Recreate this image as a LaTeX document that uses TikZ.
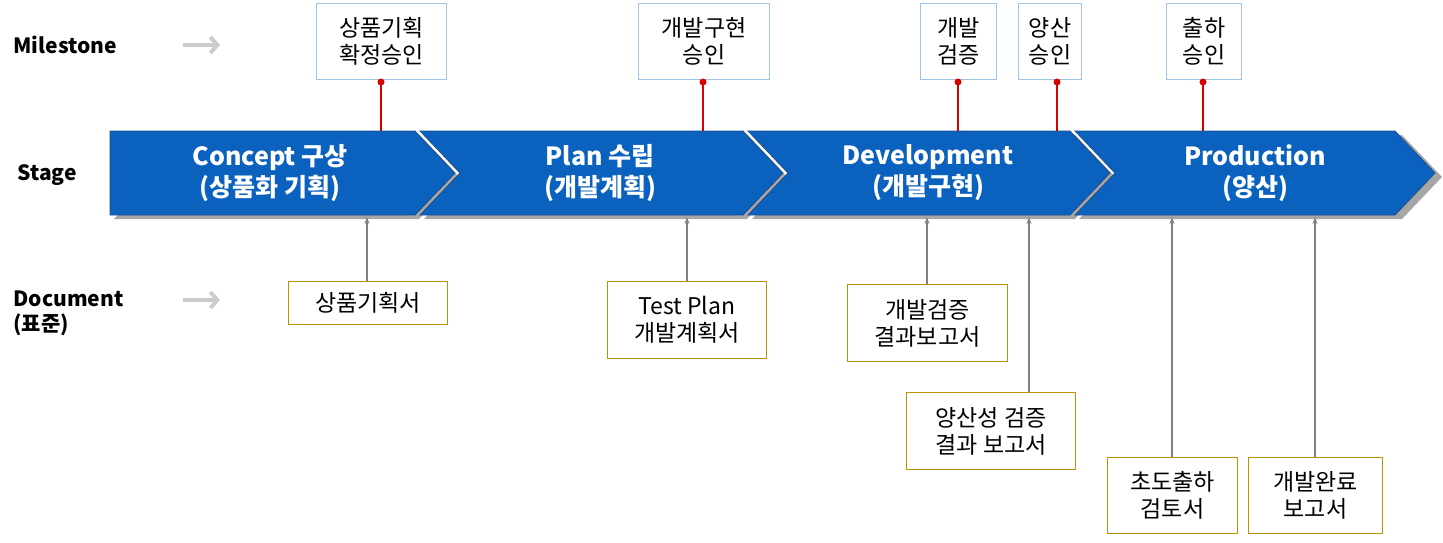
\documentclass[tikz,border=0pt]{standalone}
\usepackage{fontspec}
\setmainfont{Noto Sans CJK KR}
\usetikzlibrary{arrows.meta}
\definecolor{bandblue}{HTML}{0A62BE}
\definecolor{bandedge}{HTML}{1F4E8C}
\definecolor{msedge}{HTML}{9DC3E6}
\definecolor{docedge}{HTML}{BF9000}
\tikzset{
 x=1pt,y=-1pt,
 ms/.style={draw=msedge,fill=white,line width=1pt,align=center,font=\fontsize{23}{27}\selectfont,inner sep=0pt,anchor=north west},
 doc/.style={draw=docedge,fill=white,line width=1pt,align=center,font=\fontsize{23}{27}\selectfont,inner sep=0pt,anchor=north west},
 redl/.style={draw=red!85!black,line width=1.5pt},
 docarr/.style={draw=gray,line width=1.2pt,-{Stealth[length=7pt,width=5pt]}},
 lab/.style={font=\bfseries\fontsize{21}{25}\selectfont,align=left},
 stagetxt/.style={text=white,font=\bfseries\fontsize{25}{31}\selectfont,align=center},
 chev/.style={fill=bandblue,draw=bandedge,line width=0.8pt},
 shad/.style={fill=gray!70},
 bigarr/.style={draw=gray!40,line width=4pt,-{Straight Barb[length=7pt,width=16pt]}}
}
\begin{document}
\begin{tikzpicture}
\useasboundingbox (0,0) rectangle (1443,542);
% shadows
\foreach \a/\b in {110/455,420/783,748/1111,1075/1438}{
 \fill[shad] (\a+4,135) -- (\b-40+4,135) -- (\b+4,177) -- (\b-40+4,219) -- (\a+4,219) -- ++(40,-42) -- cycle;}
% chevrons
\fill[chev] (110,131) -- (415,131) -- (455,173) -- (415,215) -- (110,215) -- cycle;
\fill[chev] (420,131) -- (743,131) -- (783,173) -- (743,215) -- (420,215) -- (460,173) -- cycle;
\fill[chev] (748,131) -- (1070,131) -- (1110,173) -- (1070,215) -- (748,215) -- (788,173) -- cycle;
\fill[chev] (1075,131) -- (1395,131) -- (1435,173) -- (1395,215) -- (1075,215) -- (1115,173) -- cycle;
\node[stagetxt] (s1) at (270,173) {Concept 구상\\(상품화 기획)};
\node[stagetxt] (s2) at (600,173) {Plan 수립\\(개발계획)};
\node[stagetxt] (s3) at (928,173) {Development\\(개발구현)};
\node[stagetxt] (s4) at (1255,173) {Production\\(양산)};
% left labels
\node[lab,anchor=west] (lm) at (10,45) {Milestone};
\node[lab,anchor=west] (ls) at (14,175) {Stage};
\node[lab,anchor=north west] (ld) at (10,287) {Document\\(표준)};
\coordinate (a1s) at (183,45); \coordinate (a1e) at (220,45);
\coordinate (a2s) at (183,300); \coordinate (a2e) at (220,300);
\draw[bigarr] (a1s) -- (a1e);
\draw[bigarr] (a2s) -- (a2e);
% milestones
\node[ms,minimum width=130,minimum height=76] (m1) at (316,3) {상품기획\\확정승인};
\node[ms,minimum width=131,minimum height=76] (m2) at (638,3) {개발구현\\승인};
\node[ms,minimum width=76,minimum height=76] (m3) at (920,3) {개발\\검증};
\node[ms,minimum width=63,minimum height=76] (m4) at (1018,3) {양산\\승인};
\node[ms,minimum width=75,minimum height=76] (m5) at (1166,3) {출하\\승인};
\foreach \n/\x in {m1/381,m2/703,m3/958,m4/1057,m5/1203}{
 \coordinate (t\n) at (\x,131);
 \draw[redl] (\n.south -| t\n) -- (t\n);
 \fill[red!85!black] (\n.south -| t\n) ++(0,2) circle (3.5pt);}
% documents
\node[doc,minimum width=159,minimum height=43] (d1) at (288,281) {상품기획서};
\node[doc,minimum width=159,minimum height=77] (d2) at (607,281) {Test Plan\\개발계획서};
\node[doc,minimum width=160,minimum height=77] (d3) at (847,284) {개발검증\\결과보고서};
\node[doc,minimum width=169,minimum height=77] (d4) at (906,392) {양산성 검증\\결과 보고서};
\node[doc,minimum width=130,minimum height=76] (d5) at (1107,457) {초도출하\\검토서};
\node[doc,minimum width=134,minimum height=76] (d6) at (1248,457) {개발완료\\보고서};
\foreach \n/\x in {d1/367,d2/687,d3/927,d4/1029,d5/1172,d6/1315}{
 \coordinate (b\n) at (\x,217);
 \draw[docarr] (\n.north -| b\n) -- (b\n);}
\end{tikzpicture}
\end{document}
